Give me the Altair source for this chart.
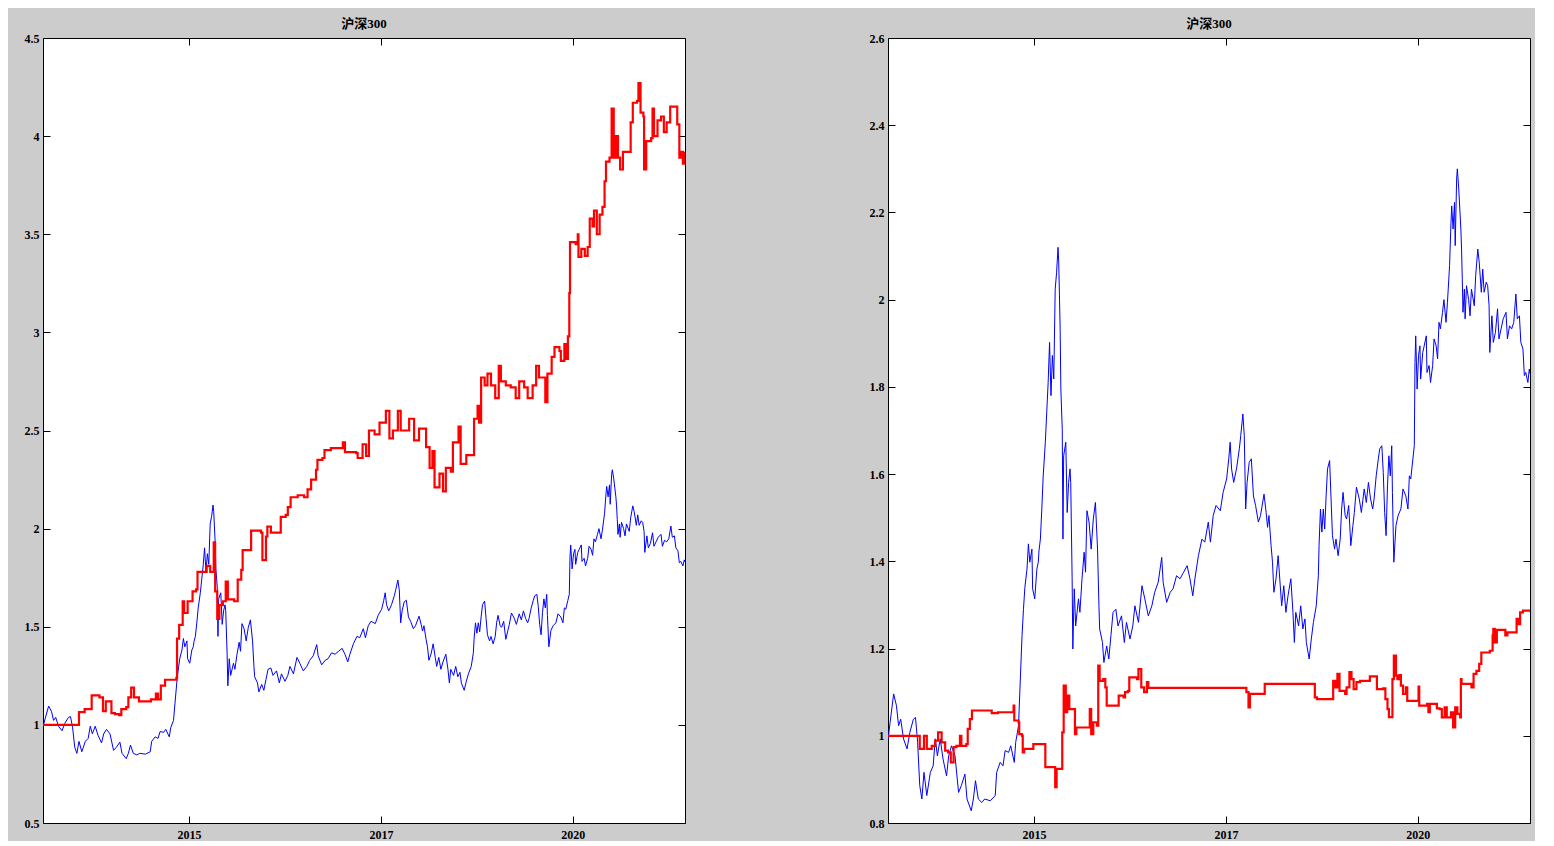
import altair as alt
import pandas as pd

TITLE = "沪深300"
X_DOMAIN = [2013.0, 2022.1]
X_TICKS = [2015.07, 2017.79, 2020.51]
LEFT_Y_DOMAIN = [0.5, 4.5]
LEFT_Y_TICKS = [0.5, 1.0, 1.5, 2.0, 2.5, 3.0, 3.5, 4.0, 4.5]
RIGHT_Y_DOMAIN = [0.8, 2.6]
RIGHT_Y_TICKS = [0.8, 1.0, 1.2, 1.4, 1.6, 1.8, 2.0, 2.2, 2.4, 2.6]

# benchmark (CSI 300 normalised), shared by both panels: (decimal year, value)
BENCH = [
(2013.00,0.99),(2013.03,1.031),(2013.08,1.096),(2013.12,1.069),(2013.15,1.023),(2013.18,1.038),(2013.22,0.993),(2013.27,0.970),(2013.31,1.008),(2013.36,1.038),(2013.39,1.042),(2013.42,0.985),(2013.45,0.886),(2013.48,0.855),(2013.51,0.916),(2013.55,0.863),(2013.60,0.916),(2013.64,0.931),(2013.67,0.993),(2013.70,0.954),(2013.74,0.993),(2013.78,0.947),(2013.83,0.908),(2013.86,0.954),(2013.90,0.977),(2013.95,0.954),(2014.00,0.870),(2014.04,0.886),(2014.09,0.912),(2014.12,0.855),(2014.18,0.828),(2014.21,0.855),(2014.24,0.897),(2014.28,0.855),(2014.33,0.847),(2014.37,0.855),(2014.45,0.851),(2014.52,0.863),(2014.54,0.916),(2014.59,0.939),(2014.63,0.931),(2014.66,0.966),(2014.71,0.962),(2014.74,0.977),(2014.79,0.939),(2014.81,0.985),(2014.85,1.023),(2014.87,1.107),(2014.90,1.23),(2014.92,1.29),(2014.94,1.34),(2014.97,1.382),(2014.99,1.44),(2015.01,1.398),(2015.04,1.428),(2015.05,1.337),(2015.08,1.314),(2015.11,1.382),(2015.13,1.398),(2015.14,1.424),(2015.16,1.451),(2015.18,1.52),(2015.20,1.596),(2015.23,1.673),(2015.25,1.742),(2015.27,1.81),(2015.29,1.902),(2015.31,1.78),(2015.33,1.872),(2015.35,1.818),(2015.37,2.024),(2015.39,2.063),(2015.41,2.12),(2015.42,2.086),(2015.44,1.933),(2015.45,1.795),(2015.47,1.703),(2015.48,1.451),(2015.49,1.642),(2015.52,1.673),(2015.54,1.512),(2015.56,1.581),(2015.58,1.612),(2015.59,1.581),(2015.61,1.36),(2015.62,1.199),(2015.64,1.337),(2015.66,1.252),(2015.70,1.314),(2015.72,1.283),(2015.75,1.36),(2015.78,1.421),(2015.80,1.375),(2015.82,1.516),(2015.85,1.49),(2015.88,1.428),(2015.91,1.497),(2015.94,1.535),(2015.97,1.428),(2015.99,1.298),(2016.00,1.245),(2016.04,1.214),(2016.06,1.168),(2016.10,1.206),(2016.13,1.176),(2016.16,1.23),(2016.19,1.283),(2016.23,1.29),(2016.26,1.252),(2016.31,1.275),(2016.35,1.214),(2016.38,1.26),(2016.43,1.222),(2016.47,1.252),(2016.50,1.298),(2016.55,1.26),(2016.60,1.344),(2016.64,1.314),(2016.69,1.275),(2016.74,1.298),(2016.78,1.329),(2016.83,1.352),(2016.88,1.409),(2016.90,1.352),(2016.95,1.306),(2017.00,1.329),(2017.04,1.337),(2017.09,1.367),(2017.14,1.36),(2017.19,1.375),(2017.24,1.39),(2017.28,1.36),(2017.32,1.321),(2017.35,1.36),(2017.40,1.413),(2017.45,1.451),(2017.49,1.444),(2017.54,1.49),(2017.57,1.444),(2017.61,1.505),(2017.65,1.528),(2017.71,1.516),(2017.75,1.558),(2017.80,1.589),(2017.83,1.635),(2017.85,1.673),(2017.87,1.612),(2017.90,1.581),(2017.94,1.612),(2017.98,1.658),(2018.00,1.688),(2018.03,1.738),(2018.05,1.688),(2018.07,1.52),(2018.09,1.581),(2018.12,1.627),(2018.15,1.635),(2018.18,1.55),(2018.21,1.528),(2018.25,1.49),(2018.28,1.505),(2018.33,1.554),(2018.36,1.512),(2018.38,1.478),(2018.40,1.505),(2018.43,1.436),(2018.45,1.398),(2018.47,1.329),(2018.50,1.36),(2018.53,1.413),(2018.56,1.344),(2018.58,1.298),(2018.61,1.344),(2018.64,1.283),(2018.67,1.321),(2018.71,1.36),(2018.74,1.283),(2018.76,1.214),(2018.78,1.283),(2018.82,1.252),(2018.85,1.298),(2018.88,1.245),(2018.91,1.268),(2018.93,1.214),(2018.97,1.176),(2019.00,1.222),(2019.03,1.26),(2019.07,1.298),(2019.10,1.367),(2019.11,1.436),(2019.13,1.52),(2019.15,1.467),(2019.17,1.52),(2019.19,1.474),(2019.21,1.55),(2019.23,1.612),(2019.26,1.631),(2019.28,1.543),(2019.30,1.459),(2019.33,1.428),(2019.35,1.451),(2019.38,1.413),(2019.41,1.451),(2019.43,1.52),(2019.45,1.558),(2019.48,1.505),(2019.50,1.497),(2019.53,1.528),(2019.56,1.436),(2019.59,1.482),(2019.61,1.512),(2019.64,1.57),(2019.68,1.543),(2019.71,1.512),(2019.75,1.566),(2019.78,1.535),(2019.81,1.581),(2019.84,1.543),(2019.87,1.52),(2019.89,1.543),(2019.92,1.596),(2019.95,1.635),(2019.97,1.658),(2020.00,1.665),(2020.02,1.604),(2020.04,1.512),(2020.06,1.459),(2020.08,1.573),(2020.10,1.642),(2020.12,1.596),(2020.14,1.665),(2020.15,1.558),(2020.17,1.398),(2020.20,1.482),(2020.23,1.505),(2020.27,1.52),(2020.30,1.566),(2020.34,1.55),(2020.37,1.52),(2020.39,1.596),(2020.41,1.589),(2020.44,1.635),(2020.46,1.665),(2020.47,1.856),(2020.48,1.917),(2020.50,1.795),(2020.52,1.872),(2020.54,1.894),(2020.55,1.818),(2020.58,1.879),(2020.60,1.894),(2020.63,1.917),(2020.64,1.833),(2020.67,1.849),(2020.69,1.81),(2020.72,1.849),(2020.74,1.91),(2020.77,1.894),(2020.79,1.864),(2020.81,1.948),(2020.83,1.933),(2020.86,1.971),(2020.88,2.0),(2020.91,1.948),(2020.93,1.994),(2020.96,2.078),(2020.98,2.177),(2020.99,2.215),(2021.01,2.162),(2021.03,2.223),(2021.04,2.124),(2021.06,2.277),(2021.07,2.30),(2021.09,2.254),(2021.12,2.162),(2021.13,2.116),(2021.14,2.047),(2021.15,1.971),(2021.17,2.024),(2021.18,1.956),(2021.20,2.032),(2021.23,2.0),(2021.25,1.963),(2021.27,2.024),(2021.31,1.986),(2021.33,2.055),(2021.36,2.116),(2021.38,2.086),(2021.41,2.017),(2021.43,2.07),(2021.45,2.017),(2021.48,2.04),(2021.50,2.032),(2021.52,1.986),(2021.53,1.879),(2021.56,1.963),(2021.58,1.902),(2021.61,1.925),(2021.64,1.979),(2021.66,1.91),(2021.69,1.933),(2021.72,1.956),(2021.76,1.971),(2021.78,1.91),(2021.81,1.94),(2021.84,1.933),(2021.87,1.948),(2021.90,2.013),(2021.92,1.956),(2021.95,1.963),(2021.97,1.902),(2022.00,1.887),(2022.02,1.826),(2022.04,1.833),(2022.07,1.81),(2022.09,1.841),(2022.10,1.83)]

# left-panel strategy curve (step-like)
LEFT_STRATEGY = [
(2013.00,1.00),(2013.51,1.065),(2013.59,1.08),(2013.66,1.08),(2013.69,1.15),(2013.80,1.14),(2013.85,1.07),(2013.89,1.12),(2013.94,1.12),(2013.97,1.06),(2014.02,1.055),(2014.08,1.05),(2014.11,1.08),(2014.18,1.09),(2014.21,1.14),(2014.25,1.19),(2014.29,1.14),(2014.36,1.12),(2014.53,1.13),(2014.60,1.16),(2014.63,1.13),(2014.67,1.20),(2014.73,1.23),(2014.89,1.24),(2014.90,1.44),(2014.93,1.51),(2014.98,1.63),(2015.00,1.57),(2015.05,1.63),(2015.10,1.63),(2015.12,1.68),(2015.17,1.69),(2015.19,1.78),(2015.29,1.78),(2015.32,1.81),(2015.37,1.78),(2015.42,1.93),(2015.44,1.68),(2015.47,1.54),(2015.50,1.61),(2015.55,1.63),(2015.59,1.73),(2015.62,1.64),(2015.71,1.63),(2015.76,1.74),(2015.81,1.79),(2015.83,1.89),(2015.90,1.89),(2015.95,1.99),(2016.09,1.98),(2016.11,1.84),(2016.16,1.96),(2016.18,2.01),(2016.23,1.98),(2016.35,1.98),(2016.37,2.06),(2016.44,2.07),(2016.47,2.11),(2016.51,2.16),(2016.61,2.17),(2016.70,2.16),(2016.75,2.20),(2016.80,2.25),(2016.87,2.30),(2016.89,2.35),(2016.96,2.36),(2016.99,2.40),(2017.08,2.41),(2017.20,2.41),(2017.25,2.44),(2017.28,2.39),(2017.44,2.385),(2017.46,2.36),(2017.53,2.43),(2017.58,2.37),(2017.62,2.50),(2017.70,2.48),(2017.77,2.54),(2017.84,2.54),(2017.86,2.60),(2017.91,2.46),(2017.96,2.50),(2018.03,2.60),(2018.07,2.50),(2018.15,2.50),(2018.19,2.56),(2018.26,2.45),(2018.33,2.51),(2018.38,2.51),(2018.43,2.415),(2018.48,2.31),(2018.52,2.395),(2018.55,2.21),(2018.62,2.28),(2018.67,2.19),(2018.71,2.31),(2018.78,2.29),(2018.81,2.44),(2018.88,2.44),(2018.89,2.52),(2018.92,2.33),(2019.00,2.375),(2019.09,2.375),(2019.11,2.56),(2019.16,2.625),(2019.18,2.54),(2019.21,2.77),(2019.26,2.73),(2019.30,2.79),(2019.35,2.73),(2019.41,2.665),(2019.46,2.83),(2019.49,2.75),(2019.56,2.73),(2019.63,2.72),(2019.70,2.665),(2019.75,2.75),(2019.82,2.72),(2019.87,2.665),(2019.94,2.73),(2019.99,2.83),(2020.03,2.77),(2020.08,2.77),(2020.12,2.645),(2020.15,2.79),(2020.21,2.875),(2020.25,2.925),(2020.32,2.905),(2020.34,2.855),(2020.39,2.94),(2020.41,2.865),(2020.44,2.98),(2020.46,3.20),(2020.47,3.46),(2020.55,3.45),(2020.58,3.50),(2020.59,3.385),(2020.63,3.425),(2020.68,3.39),(2020.72,3.435),(2020.75,3.58),(2020.79,3.54),(2020.81,3.62),(2020.85,3.50),(2020.89,3.60),(2020.93,3.64),(2020.96,3.77),(2020.98,3.87),(2021.03,3.89),(2021.06,4.14),(2021.09,3.89),(2021.12,4.00),(2021.15,3.89),(2021.18,3.83),(2021.22,3.92),(2021.31,3.92),(2021.33,4.07),(2021.36,4.17),(2021.42,4.18),(2021.44,4.27),(2021.47,4.12),(2021.51,4.10),(2021.52,3.83),(2021.55,3.975),(2021.62,3.99),(2021.64,4.14),(2021.66,4.00),(2021.71,4.08),(2021.76,4.10),(2021.80,4.02),(2021.84,4.07),(2021.89,4.15),(2021.97,4.15),(2021.99,4.06),(2022.02,3.89),(2022.05,3.92),(2022.07,3.86),(2022.10,3.92)]

# right-panel strategy curve (step-like)
RIGHT_STRATEGY = [
(2013.00,1.0),(2013.45,0.970),(2013.51,1.0),(2013.55,0.970),(2013.62,0.977),(2013.67,0.989),(2013.71,1.008),(2013.76,0.985),(2013.81,0.966),(2013.85,0.962),(2013.89,0.939),(2013.93,0.974),(2013.97,0.977),(2014.02,1.0),(2014.04,0.977),(2014.11,0.981),(2014.13,1.016),(2014.16,1.038),(2014.19,1.058),(2014.47,1.052),(2014.56,1.054),(2014.78,1.069),(2014.79,1.035),(2014.85,1.031),(2014.86,1.004),(2014.90,1.0),(2014.91,0.962),(2014.93,0.970),(2015.06,0.981),(2015.23,0.928),(2015.37,0.882),(2015.39,0.924),(2015.47,1.008),(2015.49,1.115),(2015.52,1.054),(2015.54,1.092),(2015.57,1.061),(2015.65,1.004),(2015.67,1.019),(2015.86,1.061),(2015.88,1.004),(2015.91,1.031),(2015.96,1.023),(2015.98,1.161),(2016.00,1.126),(2016.05,1.130),(2016.08,1.111),(2016.10,1.069),(2016.27,1.092),(2016.34,1.088),(2016.36,1.100),(2016.40,1.103),(2016.42,1.134),(2016.53,1.130),(2016.55,1.153),(2016.59,1.111),(2016.63,1.100),(2016.67,1.123),(2016.69,1.11),(2018.08,1.10),(2018.11,1.065),(2018.13,1.096),(2018.34,1.119),(2019.05,1.088),(2019.08,1.084),(2019.31,1.126),(2019.34,1.111),(2019.37,1.142),(2019.40,1.103),(2019.48,1.096),(2019.50,1.111),(2019.54,1.146),(2019.57,1.130),(2019.60,1.107),(2019.64,1.123),(2019.69,1.126),(2019.83,1.136),(2019.93,1.107),(2020.02,1.109),(2020.05,1.084),(2020.08,1.061),(2020.10,1.043),(2020.15,1.130),(2020.17,1.184),(2020.20,1.138),(2020.22,1.130),(2020.25,1.139),(2020.27,1.115),(2020.30,1.096),(2020.34,1.111),(2020.36,1.08),(2020.52,1.113),(2020.53,1.069),(2020.64,1.073),(2020.66,1.054),(2020.68,1.073),(2020.78,1.063),(2020.82,1.061),(2020.85,1.042),(2020.89,1.065),(2020.92,1.042),(2020.98,1.054),(2021.01,1.019),(2021.04,1.065),(2021.07,1.050),(2021.11,1.042),(2021.12,1.130),(2021.13,1.119),(2021.27,1.111),(2021.30,1.142),(2021.34,1.149),(2021.38,1.165),(2021.41,1.191),(2021.53,1.195),(2021.57,1.23),(2021.58,1.245),(2021.60,1.214),(2021.63,1.243),(2021.75,1.23),(2021.78,1.237),(2021.91,1.268),(2021.93,1.256),(2021.96,1.283),(2022.00,1.287),(2022.10,1.287)]

FONT = "Liberation Serif"
TITLE_FONT = "Liberation Serif, Noto Sans CJK SC"


def to_df(pairs):
    return pd.DataFrame(pairs, columns=["t", "v"])


def make_axis(orient, values, show_labels, fmt=None, label_expr=None, pad=4):
    kw = dict(orient=orient, values=values, labels=show_labels, domain=False, grid=False,
              ticks=True, tickColor="black", tickSize=7, tickWidth=1, offset=-7, title=None,
              labelFont=FONT, labelFontSize=12, labelFontWeight="bold", labelColor="black",
              labelPadding=pad, labelFlush=False)
    if fmt:
        kw["format"] = fmt
    if label_expr:
        kw["labelExpr"] = label_expr
    return alt.Axis(**kw)


def panel(strategy, y_domain, y_ticks):
    xs = alt.Scale(domain=X_DOMAIN, nice=False, zero=False)
    ys = alt.Scale(domain=y_domain, nice=False, zero=False)
    blue = alt.Chart(to_df(BENCH)).mark_line(color="#0000ff", strokeWidth=1, clip=True).encode(
        x=alt.X("t:Q", scale=xs, axis=make_axis("bottom", X_TICKS, True,
                                                 label_expr="'' + floor(datum.value)", pad=6)),
        y=alt.Y("v:Q", scale=ys, axis=make_axis("left", y_ticks, True, fmt="~g", pad=4)),
    )
    red = alt.Chart(to_df(strategy)).mark_line(color="#ff0000", strokeWidth=2.2,
                                               interpolate="step-after", clip=True).encode(
        x=alt.X("t:Q", scale=xs, axis=make_axis("top", X_TICKS, False)),
        y=alt.Y("v:Q", scale=ys, axis=make_axis("right", y_ticks, False)),
    )
    return alt.layer(blue, red).properties(
        width=642, height=785,
        title=alt.TitleParams(TITLE, font=TITLE_FONT, fontSize=13, fontWeight="bold",
                              color="black", anchor="middle", frame="group", offset=1),
    )


chart = alt.hconcat(
    panel(LEFT_STRATEGY, LEFT_Y_DOMAIN, LEFT_Y_TICKS),
    panel(RIGHT_STRATEGY, RIGHT_Y_DOMAIN, RIGHT_Y_TICKS),
    spacing=182,
).properties(
    background="#cccccc",
    padding={"left": 15, "top": 9, "right": 4, "bottom": 0},
).configure_view(stroke="black", strokeWidth=1, fill="white")

chart.save("out.html", embed_options={"renderer": "svg", "actions": False})
